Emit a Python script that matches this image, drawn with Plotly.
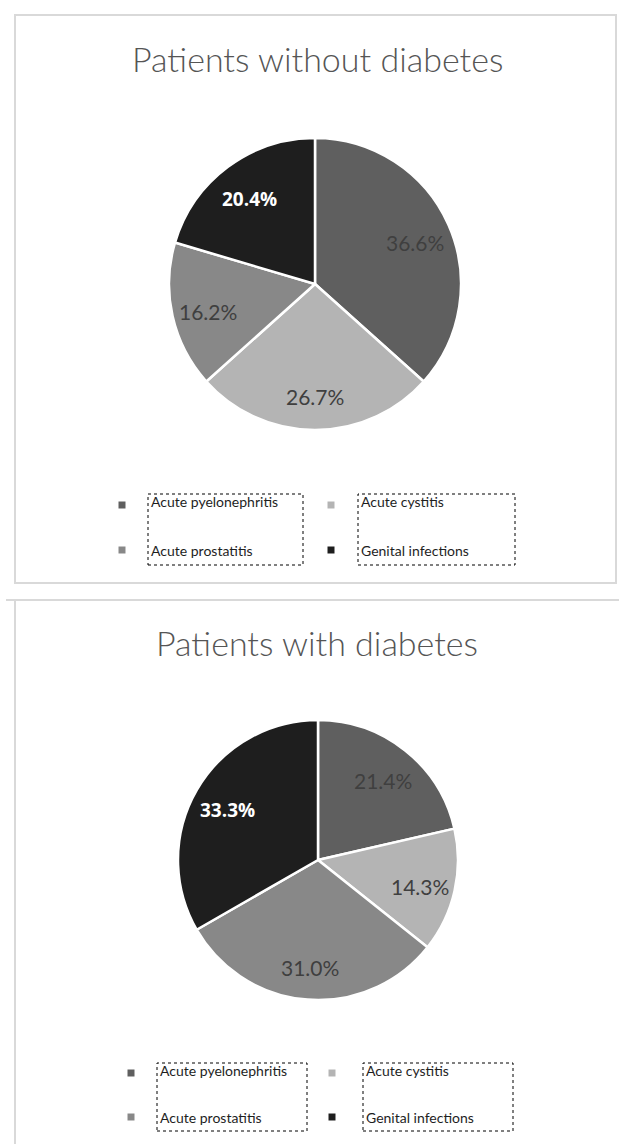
import math
import plotly.graph_objects as go

W, H = 619, 1144

categories = ["Acute pyelonephritis", "Acute cystitis", "Acute prostatitis", "Genital infections"]
without_diabetes = [36.6, 26.7, 16.2, 20.4]
with_diabetes = [21.4, 14.3, 31.0, 33.3]
titles = ["Patients without diabetes", "Patients with diabetes"]

colors = ["#5f5f5f", "#b4b4b4", "#888888", "#1e1e1e"]
label_colors = ["#3f3f3f", "#3f3f3f", "#3f3f3f", "#ffffff"]
FONT = "Lato"


def px(x):
    return x / W


def py(y):
    return 1 - y / H


fig = go.Figure()
shapes = []
annotations = []

pies = [(without_diabetes, 315, 284, 146), (with_diabetes, 318, 860, 140)]

for values, cx, cy, r in pies:
    fig.add_trace(go.Pie(
        labels=categories,
        values=values,
        textinfo="none",
        sort=False,
        direction="clockwise",
        rotation=0,
        marker=dict(colors=colors, line=dict(color="#ffffff", width=2.5)),
        domain=dict(x=[px(cx - r), px(cx + r)], y=[py(cy + r), py(cy - r)]),
        showlegend=False,
        hoverinfo="label+value",
    ))
    # data labels placed at the slice mid-angle (derived from the values)
    total = sum(values)
    cum = 0.0
    for i, v in enumerate(values):
        mid = (cum + v / 2) / total * 2 * math.pi
        cum += v
        f = 0.75
        lx = cx + f * r * math.sin(mid)
        ly = cy - f * r * math.cos(mid) + 3
        bold = i == 3
        annotations.append(dict(
            text=f"{v:.1f}%", x=px(lx), y=py(ly), xref="paper", yref="paper",
            xanchor="center", yanchor="middle", showarrow=False,
            font=dict(family="Open Sans" if bold else FONT, size=19 if bold else 21,
                      color=label_colors[i], weight=700 if bold else 400),
        ))

# panel borders
border = dict(color="#d9d9d9", width=2)
shapes.append(dict(type="rect", xref="paper", yref="paper",
                   x0=px(15), x1=px(616), y0=py(583), y1=py(15), line=border))
shapes.append(dict(type="line", xref="paper", yref="paper",
                   x0=px(6), x1=px(619), y0=py(600), y1=py(600), line=border))
shapes.append(dict(type="line", xref="paper", yref="paper",
                   x0=px(15), x1=px(15), y0=py(600), y1=py(1144), line=border))

# titles
for t, ty in zip(titles, [59, 642]):
    annotations.append(dict(text=t, x=px(317), y=py(ty), xref="paper", yref="paper",
                            xanchor="center", yanchor="middle", showarrow=False,
                            font=dict(family=FONT, size=34, color="#555555", weight=300)))

# custom legends
legend_specs = [
    dict(sq=(122, 331), rows=(505, 550), boxes=((148, 303), (358, 515)), by=(494, 565), tx=(149, 359)),
    dict(sq=(131, 332), rows=(1073, 1117), boxes=((157, 307), (363, 513)), by=(1063, 1131), tx=(158, 364)),
]
for spec in legend_specs:
    for ci in range(2):
        x0, x1 = spec["boxes"][ci]
        shapes.append(dict(type="rect", xref="paper", yref="paper",
                           x0=px(x0), x1=px(x1), y0=py(spec["by"][1]), y1=py(spec["by"][0]),
                           line=dict(color="#000000", width=1, dash="dot")))
    for k, cat in enumerate(categories):
        col = k % 2
        row = k // 2
        sx = spec["sq"][col]
        sy = spec["rows"][row]
        shapes.append(dict(type="rect", xref="paper", yref="paper",
                           x0=px(sx - 3.5), x1=px(sx + 3.5), y0=py(sy + 3.5), y1=py(sy - 3.5),
                           line=dict(width=0), fillcolor=colors[k]))
        ty = sy - 3 if row == 0 else sy
        annotations.append(dict(text=cat, x=px(spec["tx"][col]), y=py(ty), xref="paper", yref="paper",
                                xanchor="left", yanchor="middle", showarrow=False,
                                font=dict(family=FONT, size=14, color="#1e1e1e")))

fig.update_layout(
    width=W, height=H,
    margin=dict(l=0, r=0, t=0, b=0),
    paper_bgcolor="#ffffff",
    plot_bgcolor="#ffffff",
    shapes=shapes,
    annotations=annotations,
)

fig.write_html("out.html")
